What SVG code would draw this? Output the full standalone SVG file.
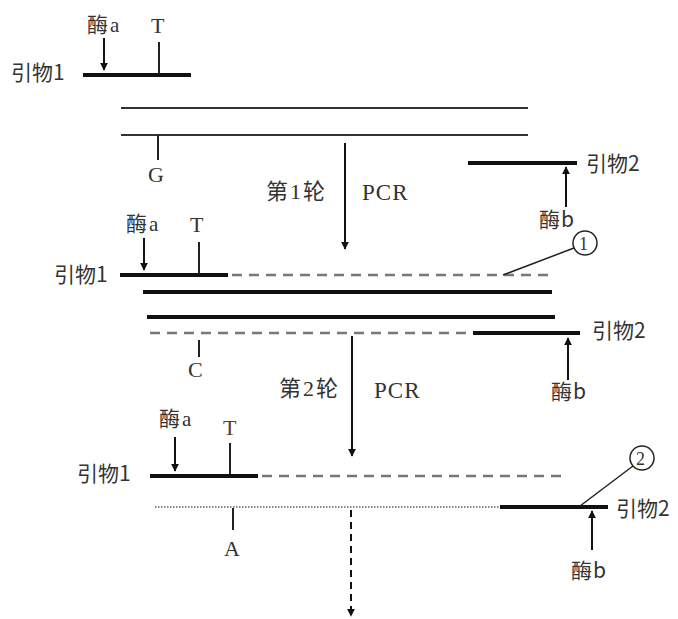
<svg xmlns="http://www.w3.org/2000/svg" width="678" height="619" viewBox="0 0 678 619">
<defs>
<marker id="ah" viewBox="0 0 10 10" refX="9" refY="5" markerWidth="4" markerHeight="4" orient="auto" markerUnits="strokeWidth">
<path d="M0,0 L10,5 L0,10 z" fill="#111"/>
</marker>
</defs>
<style>
text{font-family:"Liberation Serif","Noto Sans CJK SC",serif;font-size:21px;fill:#333}
.cj{font-family:"Noto Sans CJK SC","Liberation Sans",sans-serif;font-size:21px;fill:#333}
.big{font-size:22px;letter-spacing:2px}
.en{font-size:22px}
.pcr{font-size:23px;letter-spacing:1px}
.thick{stroke:#111;stroke-width:4;fill:none}
.thin{stroke:#333;stroke-width:2;fill:none}
.dash{stroke:#777;stroke-width:2.5;stroke-dasharray:10 7;fill:none}
.dot{stroke:#888;stroke-width:2;stroke-dasharray:1.5 1.5;fill:none}
.tick{stroke:#222;stroke-width:2;fill:none}
.arr{stroke:#111;stroke-width:2;fill:none;marker-end:url(#ah)}
.leader{stroke:#222;stroke-width:1.5;fill:none}
.circ{stroke:#222;stroke-width:1.5;fill:#fff}
</style>

<g id="round0">
<g id="primer1-a">
<text x="87" y="32" letter-spacing="2">酶a</text>
<text class="en" x="151" y="33">T</text>
<text class="cj" x="11" y="80">引物1</text>
<line class="thick" x1="83" y1="75" x2="191" y2="75"/>
<line class="tick" x1="159" y1="42" x2="159" y2="73"/>
</g>
<g id="template">
<line class="thin" x1="121" y1="108" x2="528" y2="108"/>
<line class="thin" x1="121" y1="135" x2="528" y2="135"/>
<line class="tick" x1="158" y1="135" x2="158" y2="160"/>
<text class="en" x="148" y="182">G</text>
</g>
<g id="primer2-a">
<line class="thick" x1="468" y1="163" x2="577" y2="163"/>
<text class="cj" x="586" y="171">引物2</text>
<text class="cj" x="539" y="227" letter-spacing="1">酶b</text>
</g>
</g>

<g id="round1">
<g id="primer1-b">
<text x="126" y="231" letter-spacing="2">酶a</text>
<text class="en" x="190" y="232">T</text>
<text class="cj" x="54" y="282">引物1</text>
<line class="thick" x1="120" y1="275" x2="228" y2="275"/>
<line class="tick" x1="199" y1="242" x2="199" y2="273"/>
</g>
<g id="strands-b">
<line class="dash" x1="232" y1="275" x2="553" y2="275"/>
<line class="thick" x1="143" y1="292" x2="552" y2="292"/>
<line class="thick" x1="147" y1="317" x2="555" y2="317"/>
<line class="dash" x1="150" y1="333" x2="473" y2="333"/>
<line class="thick" x1="473" y1="333" x2="580" y2="333"/>
<line class="tick" x1="199" y1="340" x2="199" y2="357"/>
<text class="en" x="188" y="377">C</text>
</g>
<g id="primer2-b">
<text class="cj" x="592" y="338">引物2</text>
<text class="cj" x="551" y="399" letter-spacing="1">酶b</text>
</g>
<g id="label1">
<circle class="circ" cx="585" cy="243" r="12"/>
<text x="579" y="250" style="font-size:18px">1</text>
</g>
</g>

<g id="round2">
<g id="primer1-c">
<text x="159" y="426" letter-spacing="2">酶a</text>
<text class="en" x="223" y="435" style="fill:#5a3a32">T</text>
<text class="cj" x="77" y="481">引物1</text>
<line class="thick" x1="150" y1="476" x2="258" y2="476"/>
<line class="tick" x1="230" y1="443" x2="230" y2="474"/>
</g>
<g id="strands-c">
<line class="dash" x1="262" y1="476" x2="562" y2="476"/>
<line class="dot" x1="155" y1="507" x2="500" y2="507"/>
<line class="thick" x1="500" y1="507" x2="608" y2="507"/>
<line class="tick" x1="233" y1="508" x2="233" y2="530"/>
<text class="en" x="224" y="556">A</text>
</g>
<g id="primer2-c">
<text class="cj" x="616" y="516">引物2</text>
<text class="cj" x="571" y="578" letter-spacing="1">酶b</text>
</g>
<g id="label2">
<circle class="circ" cx="642" cy="458" r="12"/>
<text x="636" y="465" style="font-size:18px">2</text>
</g>
</g>

<g id="labels">
<text class="big" x="266" y="199">第1轮</text>
<text class="pcr" x="362" y="200">PCR</text>
<text class="big" x="279" y="396">第2轮</text>
<text class="pcr" x="374" y="398">PCR</text>
</g>

<g id="connectors">
<line class="arr" x1="104" y1="38" x2="104" y2="70"/>
<line class="arr" x1="566" y1="207" x2="566" y2="167"/>
<line class="arr" x1="345" y1="143" x2="345" y2="249"/>
<line class="leader" x1="503" y1="275" x2="574" y2="248"/>
<line class="arr" x1="144" y1="238" x2="144" y2="270"/>
<line class="arr" x1="568" y1="380" x2="568" y2="338"/>
<line class="arr" x1="352" y1="336" x2="352" y2="456"/>
<line class="arr" x1="175" y1="437" x2="175" y2="471"/>
<line class="arr" x1="592" y1="550" x2="592" y2="511"/>
<line class="leader" x1="580" y1="506" x2="633" y2="466"/>
<line class="arr" x1="351" y1="510" x2="351" y2="616" style="stroke-dasharray:7 5"/>
</g>
</svg>
